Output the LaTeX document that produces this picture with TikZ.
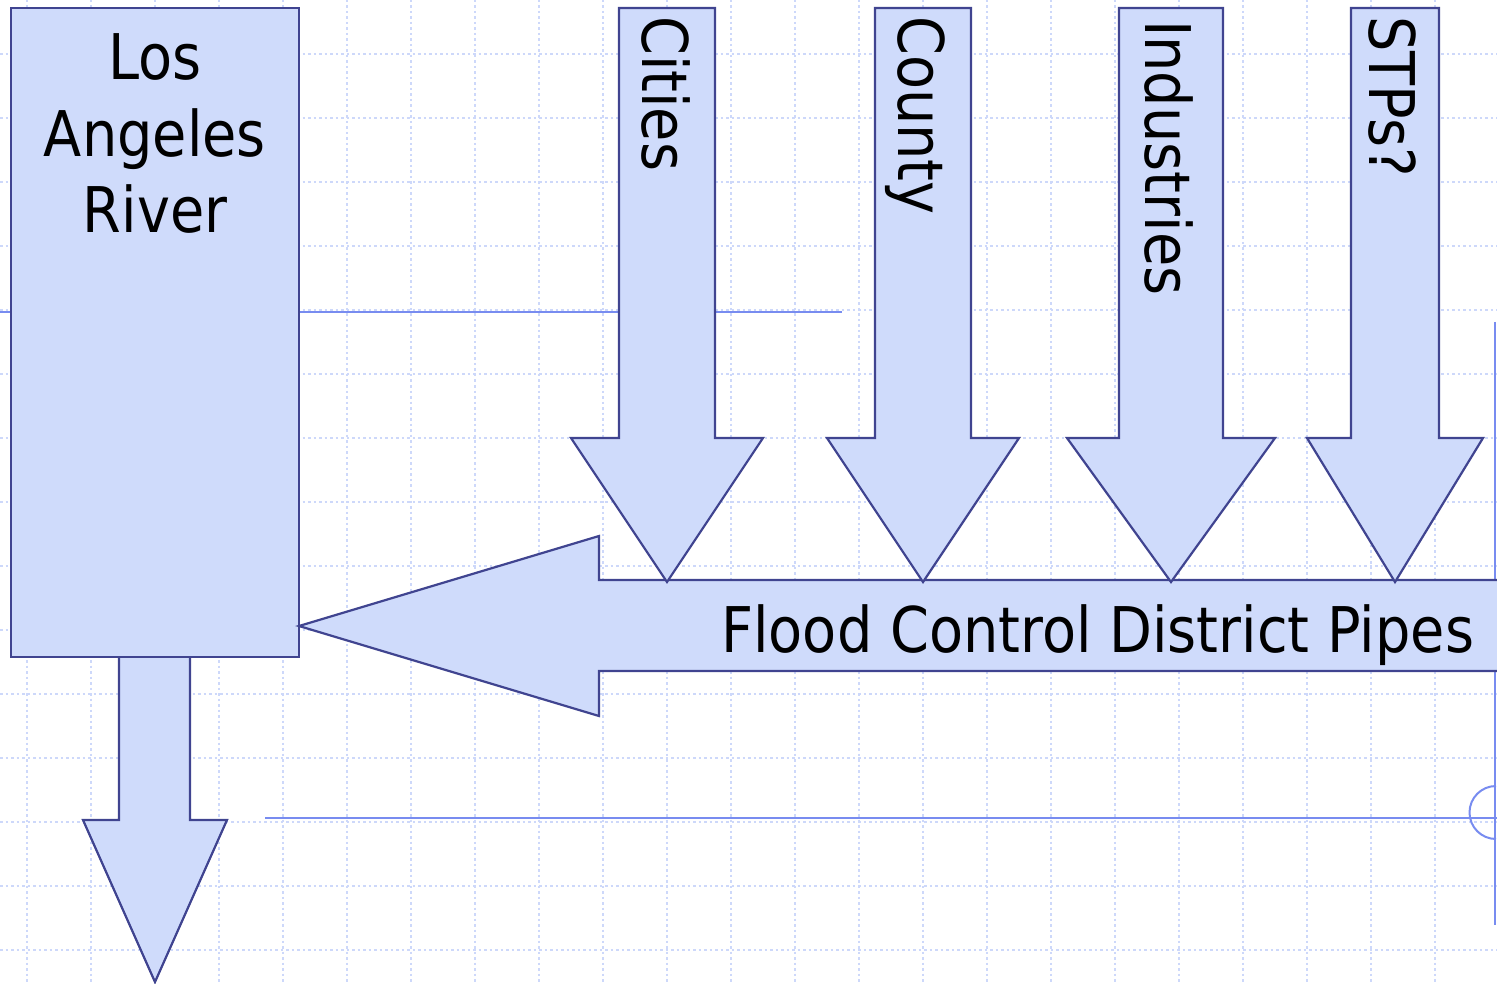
\documentclass[tikz,border=0pt]{standalone}
\usepackage{fontspec}
\newfontfamily\tah[FakeStretch=0.885]{DejaVu Sans}
\definecolor{shfill}{RGB}{207,219,251}
\definecolor{shdraw}{RGB}{64,68,144}
\definecolor{guide}{RGB}{120,140,240}
\definecolor{gridc}{RGB}{205,216,250}
\begin{document}
\begin{tikzpicture}[x=1pt,y=-1pt,
  gridline/.style={draw=gridc,line width=1.2pt,dash pattern=on 2.5pt off 3pt},
  guideline/.style={draw=guide,line width=2pt},
  arrowshape/.style={fill=shfill,draw=shdraw,line width=2.2pt,line join=miter},
  lbl/.style={inner sep=0pt,font=\tah\fontsize{63}{77}\selectfont,text=black},
  vlbl/.style={lbl,rotate=-90,anchor=base west}]
\useasboundingbox (0,0) rectangle (1497,984);
\clip (0,0) rectangle (1497,984);
% background grid
\foreach \x in {27,91,...,1435} \draw[gridline] (\x,0) -- (\x,984);
\foreach \y in {54,118,...,950} \draw[gridline] (0,\y) -- (1497,\y);
% guide lines
\draw[guideline] (0,312) -- (842,312);
\draw[guideline] (265,818) -- (1497,818);
\draw[guideline] (1495,322) -- (1495,925);
\draw[guideline] (1496,786) arc[start angle=-90,end angle=-270,radius=26.5];
% Los Angeles River box with outlet arrow
\draw[arrowshape] (119,650) -- (119,820) -- (83,820) -- (155,982) -- (227,820) -- (190,820) -- (190,650);
\draw[arrowshape] (11,8) rectangle (299,657);
% Flood control district pipes arrow
\draw[arrowshape] (1510,580) -- (599,580) -- (599,536) -- (299,626) -- (599,716) -- (599,671) -- (1510,671);
% inflow arrows
\draw[arrowshape] (619,8) -- (715,8) -- (715,438) -- (763,438) -- (667,582) -- (571,438) -- (619,438) -- cycle;
\draw[arrowshape] (875,8) -- (971,8) -- (971,438) -- (1019,438) -- (923,582) -- (827,438) -- (875,438) -- cycle;
\draw[arrowshape] (1119,8) -- (1223,8) -- (1223,438) -- (1275,438) -- (1171,582) -- (1067,438) -- (1119,438) -- cycle;
\draw[arrowshape] (1351,8) -- (1439,8) -- (1439,438) -- (1483,438) -- (1395,582) -- (1307,438) -- (1351,438) -- cycle;
% labels
\node[lbl,anchor=base] (los) at (155,80) {Los};
\node[lbl,anchor=base] (angeles) at (155,157) {Angeles};
\node[lbl,anchor=base] (river) at (155,233) {River};
\node[lbl,anchor=base west] (fcd) at (721,652) {Flood Control District Pipes};
\node[vlbl] (cities) at (642,16) {Cities};
\node[vlbl] (county) at (898,16) {County};
\node[vlbl] (industries) at (1145,20) {Industries};
\node[vlbl] (stps) at (1369,16) {STPs?};
\end{tikzpicture}
\end{document}
